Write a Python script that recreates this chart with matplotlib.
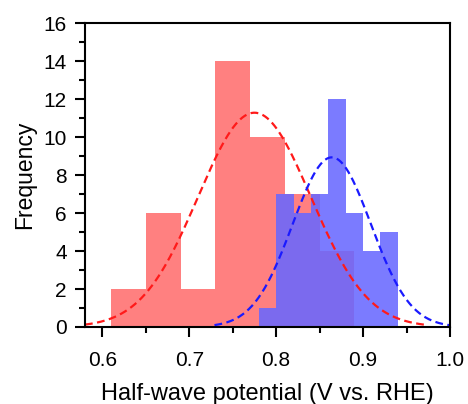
import numpy as np
import matplotlib
matplotlib.use('Agg')
from matplotlib import pyplot as plt
from matplotlib.ticker import MultipleLocator, FormatStrFormatter

plt.rcParams['font.family'] = ['Liberation Sans', 'DejaVu Sans']

# histogram of half-wave potentials, two sample groups
red_edges = [0.61, 0.65, 0.69, 0.73, 0.77, 0.81, 0.85, 0.89]
red_counts = [2, 6, 2, 14, 10, 7, 4]

blue_edges = [0.78, 0.80, 0.82, 0.84, 0.86, 0.88, 0.90, 0.92, 0.94]
blue_counts = [1, 7, 6, 7, 12, 6, 4, 5]

# gaussian fits (mean, sigma, peak height), drawn over mean +/- 3 sigma
red_fit = (0.775, 0.065, 11.28)
blue_fit = (0.864, 0.045, 8.93)


def gauss_curve(mu, sigma, peak):
    x = np.linspace(mu - 3 * sigma, mu + 3 * sigma, 300)
    return x, peak * np.exp(-(x - mu) ** 2 / (2 * sigma ** 2))


fig = plt.figure(figsize=(4.68, 4.04), dpi=100)
ax = fig.add_axes([0.1816, 0.1906, 0.7799, 0.7524])

ax.stairs(red_counts, red_edges, fill=True, color='#FF8080', lw=0)
ax.stairs(blue_counts, blue_edges, fill=True, color=(103 / 255, 103 / 255, 1.0), alpha=0.87, lw=0)

x, y = gauss_curve(*red_fit)
ax.plot(x, y, color='#FF1A1A', ls=(0, (3.5, 2)), lw=1.6)
x, y = gauss_curve(*blue_fit)
ax.plot(x, y, color='#1A1AFF', ls=(0, (3.5, 2)), lw=1.6)

ax.set_xlim(0.58, 1.0)
ax.set_ylim(0, 16)
ax.xaxis.set_major_locator(MultipleLocator(0.1))
ax.xaxis.set_minor_locator(MultipleLocator(0.05))
ax.xaxis.set_major_formatter(FormatStrFormatter('%.1f'))
ax.yaxis.set_major_locator(MultipleLocator(2))
ax.yaxis.set_minor_locator(MultipleLocator(1))

for s in ax.spines.values():
    s.set_linewidth(1.5)
ax.tick_params(which='major', length=7, width=1.5, labelsize=15, direction='out', pad=6)
ax.tick_params(which='minor', length=4.5, width=1.5, direction='out')
ax.tick_params(axis='x', which='major', pad=10)

ax.set_xlabel('Half-wave potential (V vs. RHE)', fontsize=17, labelpad=10)
ax.set_ylabel('Frequency', fontsize=16.5, labelpad=5)

fig.savefig('out.png', dpi=100)
